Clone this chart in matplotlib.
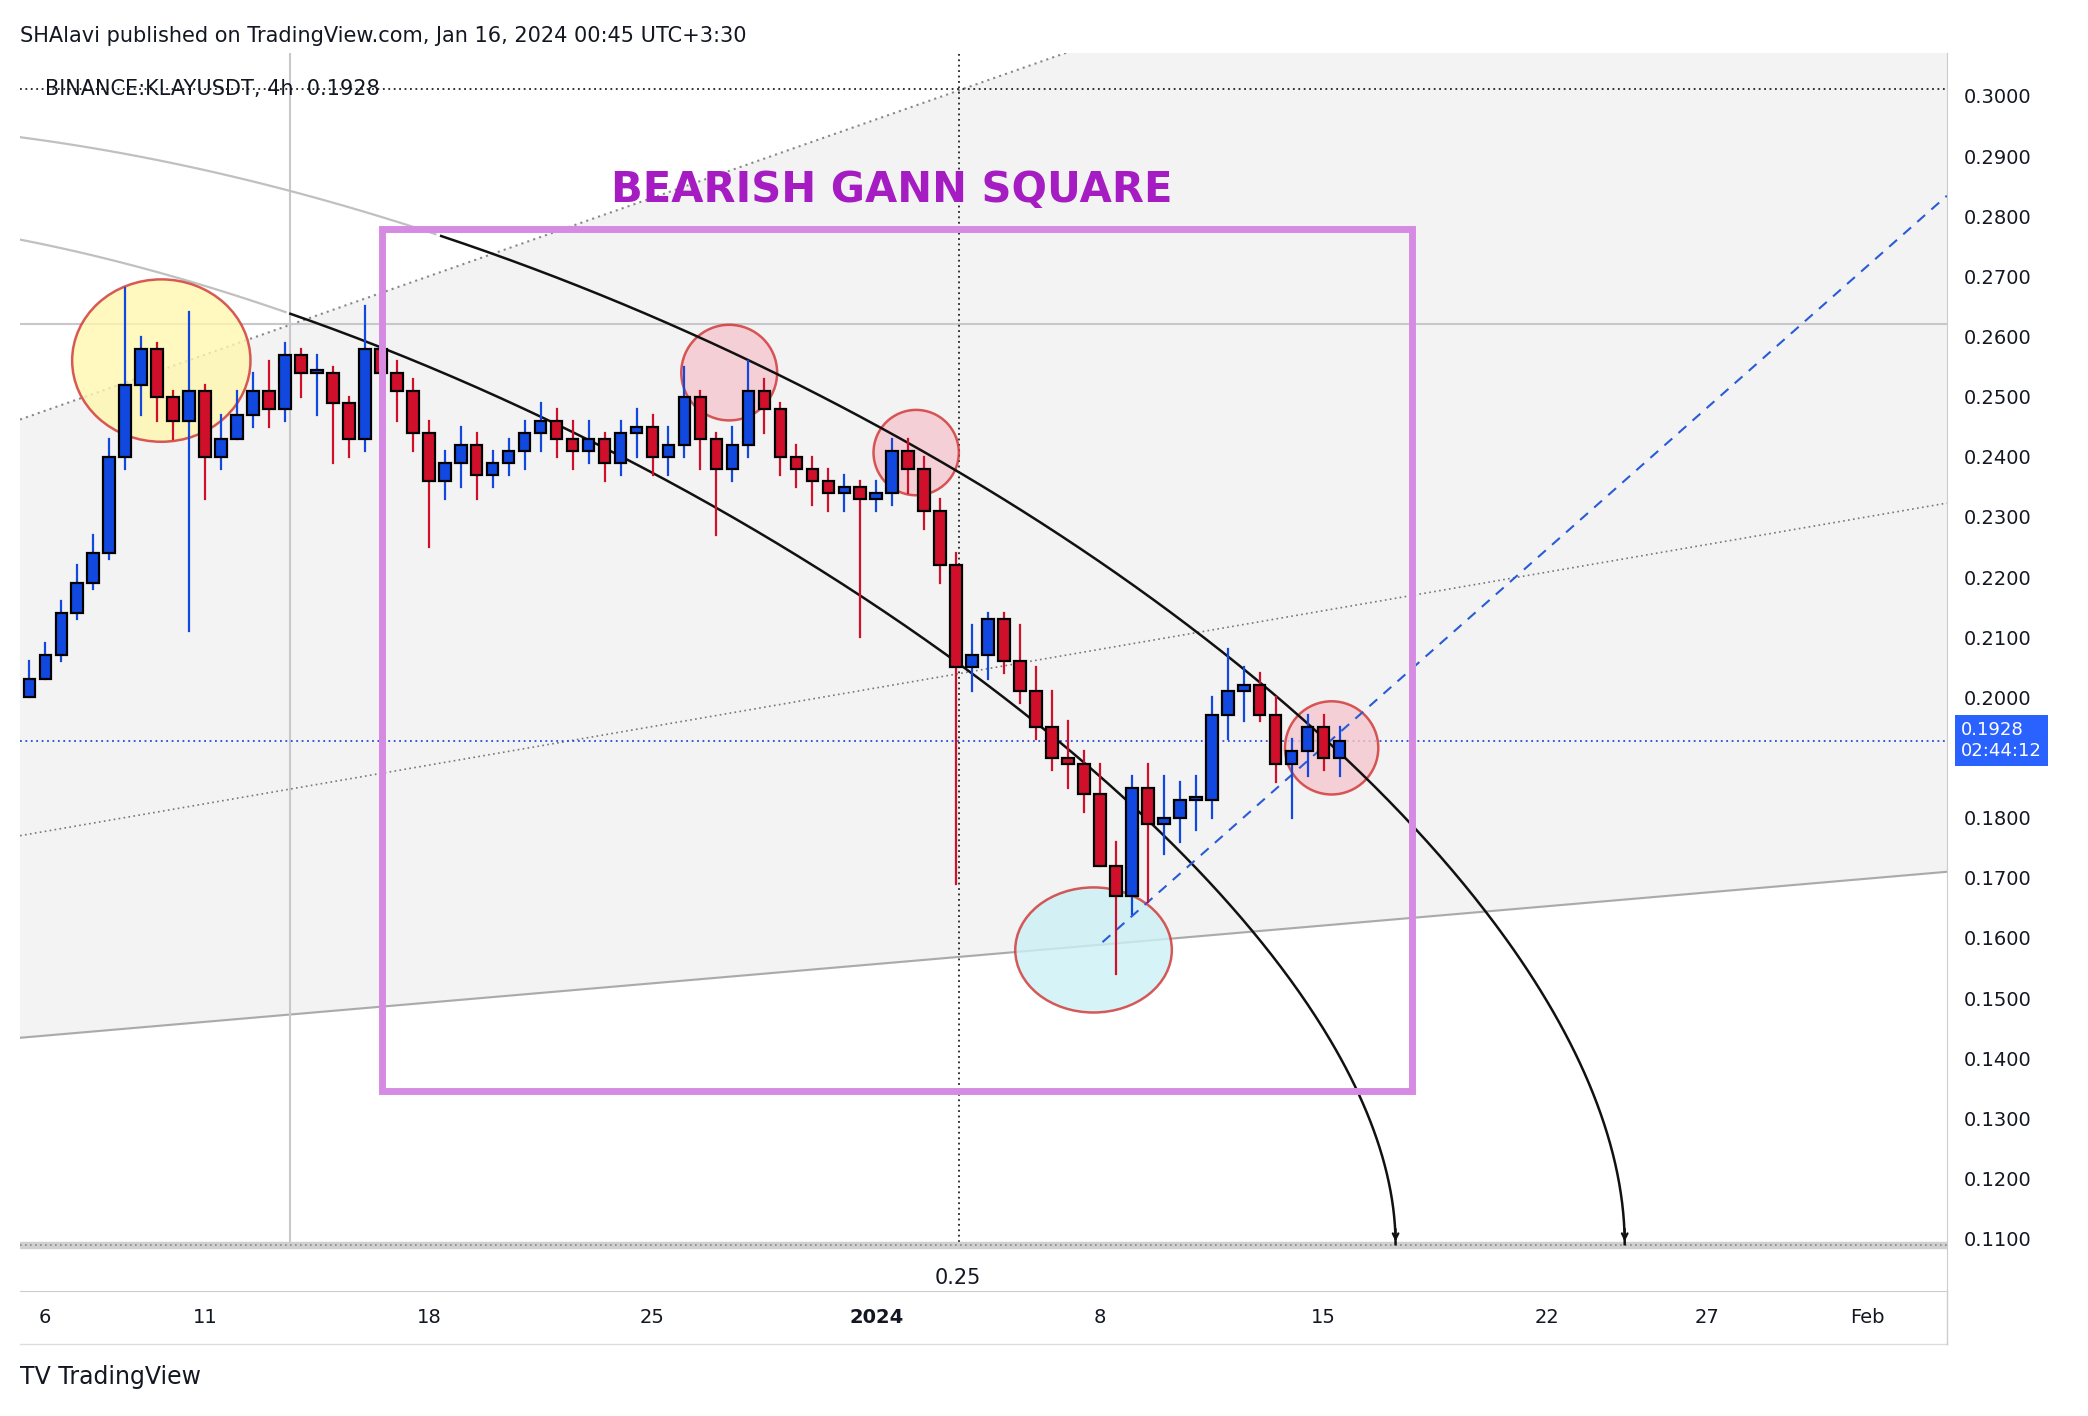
import numpy as np
import matplotlib
matplotlib.use("Agg")
import matplotlib.pyplot as plt
from matplotlib.patches import Rectangle, Ellipse

# ---- data (days offset from Dec 6, 2023; 12h candles) ----
closes = [0.203,0.207,0.214,0.219,0.224,0.240,0.252,0.258,0.250,0.246,0.251,0.240,0.243,0.247,0.251,0.248,
          0.257,0.254,0.254,0.249,0.243,0.258,0.254,0.251,0.244,0.236,0.239,0.242,0.237,0.239,0.241,0.244,
          0.246,0.243,0.241,0.243,0.239,0.244,0.245,0.240,0.242,0.250,0.243,0.238,0.242,0.251,0.248,0.240,
          0.238,0.236,0.234,0.235,0.233,0.234,0.241,0.238,0.231,0.222,0.205,0.207,0.213,0.206,0.201,0.195,
          0.190,0.189,0.184,0.172,0.167,0.185,0.179,0.180,0.183,0.183,0.197,0.201,0.202,0.197,0.189,0.191,
          0.195,0.190,0.1928]
highs = [0.206,0.209,0.216,0.222,0.227,0.243,0.268,0.260,0.259,0.251,0.264,0.252,0.247,0.251,0.254,0.256,
         0.259,0.258,0.257,0.255,0.250,0.265,0.260,0.256,0.253,0.246,0.241,0.245,0.244,0.241,0.243,0.246,
         0.249,0.248,0.246,0.246,0.244,0.246,0.248,0.247,0.245,0.255,0.251,0.244,0.245,0.256,0.253,0.249,
         0.242,0.240,0.238,0.237,0.236,0.236,0.243,0.243,0.240,0.233,0.224,0.212,0.214,0.214,0.212,0.205,
         0.201,0.196,0.191,0.189,0.176,0.187,0.189,0.187,0.186,0.187,0.200,0.208,0.205,0.204,0.200,0.193,
         0.197,0.197,0.195]
lows = [0.200,0.203,0.206,0.213,0.218,0.223,0.238,0.247,0.246,0.243,0.211,0.233,0.238,0.243,0.245,0.245,
        0.246,0.250,0.247,0.239,0.240,0.241,0.251,0.246,0.241,0.225,0.233,0.235,0.233,0.235,0.237,0.238,
        0.241,0.240,0.238,0.239,0.236,0.237,0.240,0.237,0.237,0.240,0.238,0.227,0.236,0.240,0.244,0.237,
        0.235,0.232,0.231,0.231,0.210,0.231,0.232,0.234,0.228,0.219,0.169,0.201,0.203,0.204,0.199,0.193,
        0.188,0.185,0.181,0.176,0.154,0.164,0.166,0.174,0.176,0.178,0.180,0.193,0.196,0.196,0.186,0.180,
        0.187,0.188,0.187]
first_open = 0.200
tick_days = [0, 5, 12, 19, 26, 33, 40, 47, 52, 57]
tick_labels = ["6", "11", "18", "25", "2024", "8", "15", "22", "27", "Feb"]
price_ticks = [0.11, 0.12, 0.13, 0.14, 0.15, 0.16, 0.17, 0.18, 0.20, 0.21, 0.22, 0.23, 0.24, 0.25,
               0.26, 0.27, 0.28, 0.29, 0.30]
last_price = 0.1928

fig = plt.figure(figsize=(20.88, 14.16), dpi=100)
ax = fig.add_axes([0.0096, 0.0883, 0.9228, 0.8741])
XMIN, XMAX, YMIN, YMAX = -0.79, 59.5, 0.1013, 0.3071
ax.set_xlim(XMIN, XMAX); ax.set_ylim(YMIN, YMAX)

# shaded channel
xs = np.array([XMIN, XMAX])
upper = 0.2462 + (xs + 0.79) * (0.3071 - 0.2462) / 32.69
lower = 0.1434 + (xs + 0.79) * (0.1710 - 0.1434) / 60.29
ax.fill_between(xs, lower, upper, color="#f3f3f3", zorder=0)
ax.plot(xs, upper, color="#888", ls=(0, (1, 2)), lw=1.5, zorder=1)
mid = 0.1770 + (xs + 0.79) * (0.2323 - 0.1770) / 60.29
ax.plot(xs, mid, color="#777", ls=(0, (1, 2)), lw=1.2, zorder=1)
ax.plot(xs, lower, color="#aaa", lw=1.5, zorder=1)

ax.axhline(0.2620, color="#c8c8cc", lw=1.5, zorder=1)
ax.axvline(7.67, ymin=(0.1095 - YMIN) / (YMAX - YMIN), color="#c8c8cc", lw=1.5, zorder=1)
ax.axvline(28.58, ymin=(0.1095 - YMIN) / (YMAX - YMIN), color="#222", ls=(0, (1, 2)), lw=1.3, zorder=1)
ax.axhline(0.3011, color="#222", ls=(0, (1, 2)), lw=1.3, zorder=1)
ax.axhline(last_price, color="#2a4bd7", ls=(0, (1, 2)), lw=1.3, zorder=1)
ax.axhspan(0.1085, 0.1095, color="#d0d0d0", zorder=1)
ax.axhline(0.1090, color="#888", ls=(0, (1, 2)), lw=1.2, zorder=1)

# Gann arcs (cubic Bezier)
def bez(P, n=400):
    P = np.array(P); t = np.linspace(0, 1, n)[:, None]
    return ((1-t)**3)*P[0] + 3*((1-t)**2)*t*P[1] + 3*(1-t)*t**2*P[2] + t**3*P[3]
for P, split in [([(-0.79, 0.29314), (23.58, 0.27611), (49.42, 0.17876), (49.42, 0.10907)], 12.33),
                 ([(-0.79, 0.27611), (18.5, 0.25619), (42.25, 0.17000), (42.25, 0.10907)], 7.54)]:
    c = bez(P)
    g = c[:, 0] <= split
    ax.plot(c[g, 0], c[g, 1], color="#c0c0c0", lw=1.6, zorder=2)
    ax.plot(c[~g, 0], c[~g, 1], color="#111", lw=1.8, zorder=4)
    ax.annotate("", xy=P[3], xytext=(P[3][0], P[3][1] + 0.003),
                arrowprops=dict(arrowstyle="->", color="#111", lw=1.6), zorder=4)

# blue dashed trend
ax.plot([33.08, 59.5], [0.1593, 0.2834], color="#2a5bd7", ls=(0, (5, 4)), lw=1.5, zorder=5)

# ellipses
for (cx, cy, w, h, fc) in [(3.63, 0.2560, 5.58, 0.0270, "#fff7b0"), (21.4, 0.2540, 3.0, 0.0159, "#f5c7cf"),
                           (27.25, 0.2407, 2.67, 0.0142, "#f5c7cf"), (40.25, 0.1916, 2.92, 0.0155, "#f5c7cf"),
                           (32.8, 0.1580, 4.9, 0.0208, "#ccf1f5")]:
    ax.add_patch(Ellipse((cx, cy), w, h, facecolor=fc, edgecolor="#d03030", lw=1.8, alpha=0.8, zorder=3))

# candles
o = first_open
for i, c in enumerate(closes):
    t = -0.5 + 0.5 * i
    hi = max(highs[i], o, c); lo = min(lows[i], o, c)
    up = c >= o
    col = "#1148e0" if up else "#d0102a"
    ax.plot([t, t], [lo, hi], color=col, lw=1.6, zorder=6)
    ax.add_patch(Rectangle((t - 0.18, min(o, c)), 0.36, max(abs(c - o), 0.0004),
                           facecolor=col, edgecolor="black", lw=1.6, zorder=7))
    o = c

# Gann square
ax.add_patch(Rectangle((10.54, 0.1345), 32.21, 0.1434, fill=False, edgecolor="#d68be3", lw=5, zorder=8))
ax.text(26.5, 0.2843, "BEARISH GANN SQUARE", color="#a51cc2", fontsize=30, fontweight="bold",
        ha="center", va="center", zorder=9)

ax.text(0.0, 0.3011, "BINANCE:KLAYUSDT, 4h  0.1928", fontsize=15, color="#131722", va="center", zorder=9)

# axes styling
for s in ["top", "left"]:
    ax.spines[s].set_visible(False)
ax.spines["right"].set_color("#ccc"); ax.spines["bottom"].set_color("#ccc")
ax.yaxis.tick_right()
ax.set_yticks(price_ticks)
ax.set_yticklabels([f"{p:.4f}" for p in price_ticks], fontsize=14, color="#131722")
ax.tick_params(axis="y", length=0, pad=12)
ax.set_xticks([])
for d, lab in zip(tick_days, tick_labels):
    fig.text((34 + 24 * d) / 1568, 1 - 990 / 1064, lab, ha="center", va="center", fontsize=14,
             color="#131722", fontweight="bold" if lab == "2024" else "normal")
fig.add_artist(plt.Line2D([0.0096, 0.9324], [1 - 1010 / 1064] * 2, color="#ddd", lw=1))
fig.add_artist(plt.Line2D([0.9324, 0.9324], [1 - 1010 / 1064, 0.0883], color="#ccc", lw=1))
fig.text(719 / 1568, 1 - 960 / 1064, "0.25", ha="center", va="center", fontsize=15, color="#131722")

# price label
ax.text(XMAX + 0.45, last_price, "0.1928\n02:44:12", color="white", fontsize=13, va="center", ha="left",
        bbox=dict(boxstyle="square,pad=0.35", facecolor="#2962ff", edgecolor="none"), clip_on=False, zorder=10)

fig.text(15 / 1568, 1 - 27 / 1064, "SHAlavi published on TradingView.com, Jan 16, 2024 00:45 UTC+3:30",
         fontsize=15, color="#131722", va="center")
fig.text(15 / 1568, 1 - 1035 / 1064, "TV TradingView", fontsize=17, color="#131722", va="center")

fig.savefig("out.png", dpi=100, facecolor="white")
